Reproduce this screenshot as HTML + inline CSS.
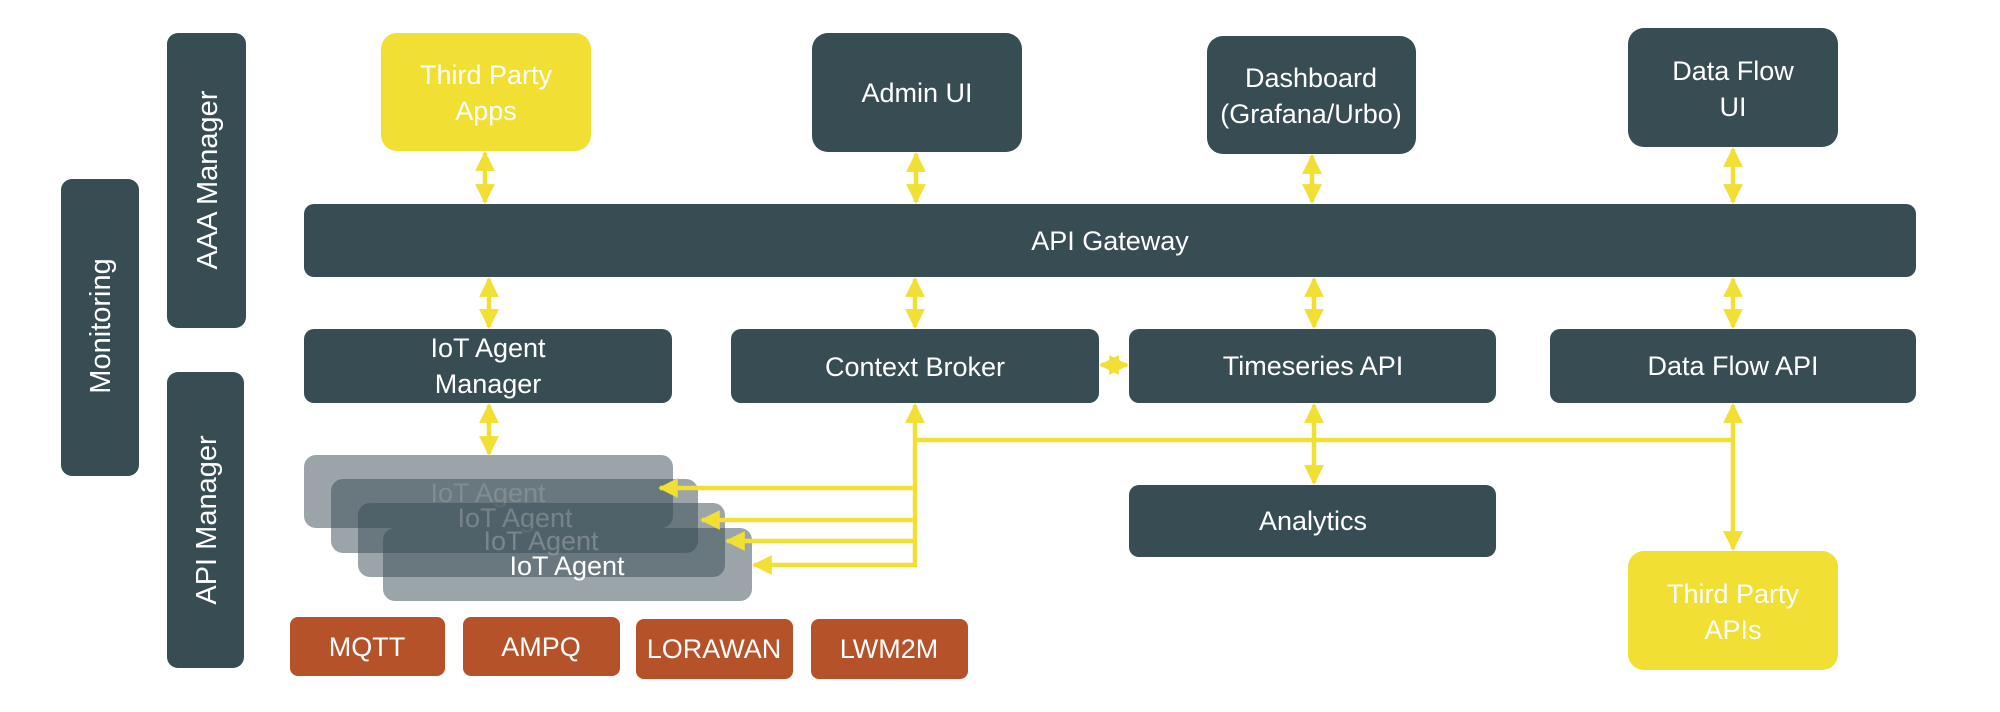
<!DOCTYPE html>
<html><head><meta charset="utf-8"><style>
html,body{margin:0;padding:0;background:#fff;}
svg{display:block;}
text{font-family:"Liberation Sans",sans-serif;fill:#fff;}
</style></head><body>
<svg width="2000" height="712" viewBox="0 0 2000 712" xmlns="http://www.w3.org/2000/svg">
<defs>
<marker id="a" viewBox="0 0 10 10" refX="9" refY="5" markerWidth="4.4" markerHeight="4.4" orient="auto-start-reverse"><path d="M0,0 L10,5 L0,10 z" fill="#f2df33"/></marker>
</defs>
<g fill="#384c54">
<rect x="61" y="179" width="78" height="297" rx="11"/>
<rect x="167" y="33" width="79" height="295" rx="11"/>
<rect x="167" y="372" width="77" height="296" rx="11"/>
<rect x="812" y="33" width="210" height="119" rx="16"/>
<rect x="1207" y="36" width="209" height="118" rx="16"/>
<rect x="1628" y="28" width="210" height="119" rx="16"/>
<rect x="304" y="204" width="1612" height="73" rx="10"/>
<rect x="304" y="329" width="368" height="74" rx="10"/>
<rect x="731" y="329" width="368" height="74" rx="10"/>
<rect x="1129" y="329" width="367" height="74" rx="10"/>
<rect x="1550" y="329" width="366" height="74" rx="10"/>
<rect x="1129" y="485" width="367" height="72" rx="10"/>
</g>
<rect x="381" y="33" width="210" height="118" rx="16" fill="#f2df33"/>
<rect x="1628" y="551" width="210" height="119" rx="16" fill="#f2df33"/>
<g fill="#b5522a">
<rect x="290" y="617" width="155" height="59" rx="8"/>
<rect x="463" y="617" width="157" height="59" rx="8"/>
<rect x="636" y="619" width="157" height="60" rx="8"/>
<rect x="811" y="619" width="157" height="60" rx="8"/>
</g>
<!-- IoT agents -->
<rect x="304" y="455" width="369" height="73" rx="12" fill="#384c54" opacity="0.5"/>
<text x="488" y="502" font-size="27" text-anchor="middle" fill="#fff" opacity="0.45">IoT Agent</text>
<rect x="331" y="479" width="367" height="74" rx="12" fill="#384c54" opacity="0.5"/>
<text x="515" y="527" font-size="27" text-anchor="middle" opacity="0.5">IoT Agent</text>
<rect x="358" y="503" width="367" height="74" rx="12" fill="#384c54" opacity="0.5"/>
<text x="541" y="550" font-size="27" text-anchor="middle" opacity="0.55">IoT Agent</text>
<rect x="383" y="528" width="369" height="73" rx="12" fill="#384c54" opacity="0.5"/>
<text x="567" y="575" font-size="27" text-anchor="middle">IoT Agent</text>
<!-- connectors -->
<g stroke="#f2df33" stroke-width="4.5" fill="none">
<line x1="485" y1="153" x2="485" y2="202" marker-start="url(#a)" marker-end="url(#a)"/>
<line x1="916" y1="154" x2="916" y2="202" marker-start="url(#a)" marker-end="url(#a)"/>
<line x1="1312" y1="156" x2="1312" y2="202" marker-start="url(#a)" marker-end="url(#a)"/>
<line x1="1733" y1="149" x2="1733" y2="202" marker-start="url(#a)" marker-end="url(#a)"/>
<line x1="489" y1="279" x2="489" y2="327" marker-start="url(#a)" marker-end="url(#a)"/>
<line x1="915" y1="279" x2="915" y2="327" marker-start="url(#a)" marker-end="url(#a)"/>
<line x1="1314" y1="279" x2="1314" y2="327" marker-start="url(#a)" marker-end="url(#a)"/>
<line x1="1733" y1="279" x2="1733" y2="327" marker-start="url(#a)" marker-end="url(#a)"/>
<line x1="489" y1="405" x2="489" y2="454" marker-start="url(#a)" marker-end="url(#a)"/>
<line x1="1314" y1="405" x2="1314" y2="483" marker-start="url(#a)" marker-end="url(#a)"/>
<line x1="1733" y1="405" x2="1733" y2="549" marker-start="url(#a)" marker-end="url(#a)"/>
<line x1="1101" y1="365" x2="1127" y2="365" marker-start="url(#a)" marker-end="url(#a)"/>
<line x1="915" y1="405" x2="915" y2="567" marker-start="url(#a)"/>
<line x1="913" y1="440" x2="1733" y2="440"/>
<line x1="917" y1="488" x2="660" y2="488" marker-end="url(#a)"/>
<line x1="917" y1="520" x2="702" y2="520" marker-end="url(#a)"/>
<line x1="917" y1="541" x2="727" y2="541" marker-end="url(#a)"/>
<line x1="917" y1="565" x2="754" y2="565" marker-end="url(#a)"/>
</g>
<!-- labels -->
<g font-size="27" text-anchor="middle">
<text x="486" y="84">Third Party</text>
<text x="486" y="120">Apps</text>
<text x="917" y="102">Admin UI</text>
<text x="1311" y="87">Dashboard</text>
<text x="1311" y="123">(Grafana/Urbo)</text>
<text x="1733" y="80">Data Flow</text>
<text x="1733" y="116">UI</text>
<text x="1110" y="250">API Gateway</text>
<text x="488" y="357">IoT Agent</text>
<text x="488" y="393">Manager</text>
<text x="915" y="376">Context Broker</text>
<text x="1313" y="375">Timeseries API</text>
<text x="1733" y="375">Data Flow API</text>
<text x="1313" y="530">Analytics</text>
<text x="1733" y="603">Third Party</text>
<text x="1733" y="639">APIs</text>
<text x="367" y="656">MQTT</text>
<text x="541" y="656">AMPQ</text>
<text x="714" y="658">LORAWAN</text>
<text x="889" y="658">LWM2M</text>
</g>
<g font-size="29" text-anchor="middle">
<text transform="translate(110,326) rotate(-90)">Monitoring</text>
<text transform="translate(217,180) rotate(-90)">AAA Manager</text>
<text transform="translate(216,520) rotate(-90)">API Manager</text>
</g>
</svg>
</body></html>
